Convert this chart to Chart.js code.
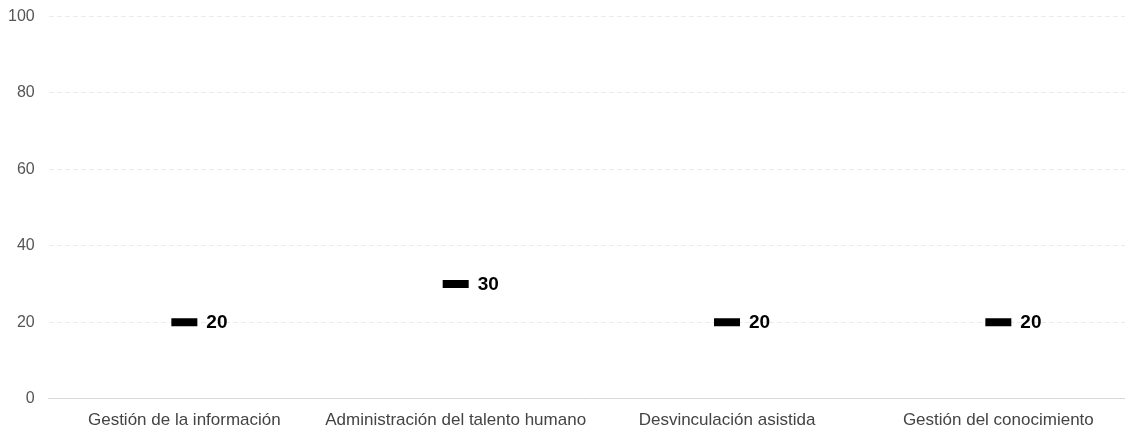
<!DOCTYPE html>
<html>
<head>
<meta charset="utf-8">
<script src="https://cdn.jsdelivr.net/npm/chart.js@4/dist/chart.umd.min.js"></script>
<style>
  html, body { margin: 0; padding: 0; background: #fff; overflow: hidden; }
  #wrap { width: 1155px; height: 439px; margin-top: -7px; }
</style>
</head>
<body>
<div id="wrap"><canvas id="chart"></canvas></div>
<script>
var categories = ['Gestión de la información', 'Administración del talento humano', 'Desvinculación asistida', 'Gestión del conocimiento'];
var values = [20, 30, 20, 20];
var yTicks = [0, 20, 40, 60, 80, 100];

// draws the bold value next to each marker
var valueLabels = {
    id: 'valueLabels',
    afterDatasetsDraw: function(chart) {
        var ctx = chart.ctx;
        var meta = chart.getDatasetMeta(0);
        ctx.save();
        ctx.font = 'bold 19px "Liberation Sans", Arial, sans-serif';
        ctx.fillStyle = '#000';
        ctx.textAlign = 'left';
        ctx.textBaseline = 'middle';
        meta.data.forEach(function(pt, i) {
            ctx.fillText(String(values[i]), pt.x + 22, pt.y + 1);
        });
        ctx.restore();
    }
};

document.addEventListener('DOMContentLoaded', function() {
    var ctx = document.getElementById('chart').getContext('2d');
    new Chart(ctx, {
        type: 'line',
        data: {
            labels: categories,
            datasets: [{
                data: values,
                showLine: false,
                pointStyle: 'line',
                pointRadius: 13,
                pointHoverRadius: 13,
                pointBorderWidth: 8,
                pointHoverBorderWidth: 8,
                borderColor: '#000',
                backgroundColor: '#000'
            }]
        },
        options: {
            responsive: true,
            maintainAspectRatio: false,
            animation: false,
            layout: { padding: { top: -9, left: -6, right: 0, bottom: -11 } },
            plugins: {
                legend: { display: false },
                tooltip: { enabled: false }
            },
            scales: {
                x: {
                    offset: true,
                    grid: { display: false, drawTicks: false },
                    border: { display: true, color: '#d9d9d9', width: 1 },
                    ticks: {
                        color: '#444',
                        padding: 12,
                        maxRotation: 0,
                        autoSkip: false,
                        font: { family: '"Liberation Sans", Arial, sans-serif', size: 17 }
                    }
                },
                y: {
                    min: 0,
                    max: 100,
                    afterBuildTicks: function(axis) {
                        axis.ticks = yTicks.map(function(v) { return { value: v }; });
                    },
                    grid: { color: '#ebebeb', drawTicks: false },
                    border: { display: false, dash: [5, 3] },
                    ticks: {
                        color: '#555',
                        padding: 14,
                        font: { family: '"Liberation Sans", Arial, sans-serif', size: 16 }
                    }
                }
            }
        },
        plugins: [valueLabels]
    });
});
</script>
</body>
</html>
